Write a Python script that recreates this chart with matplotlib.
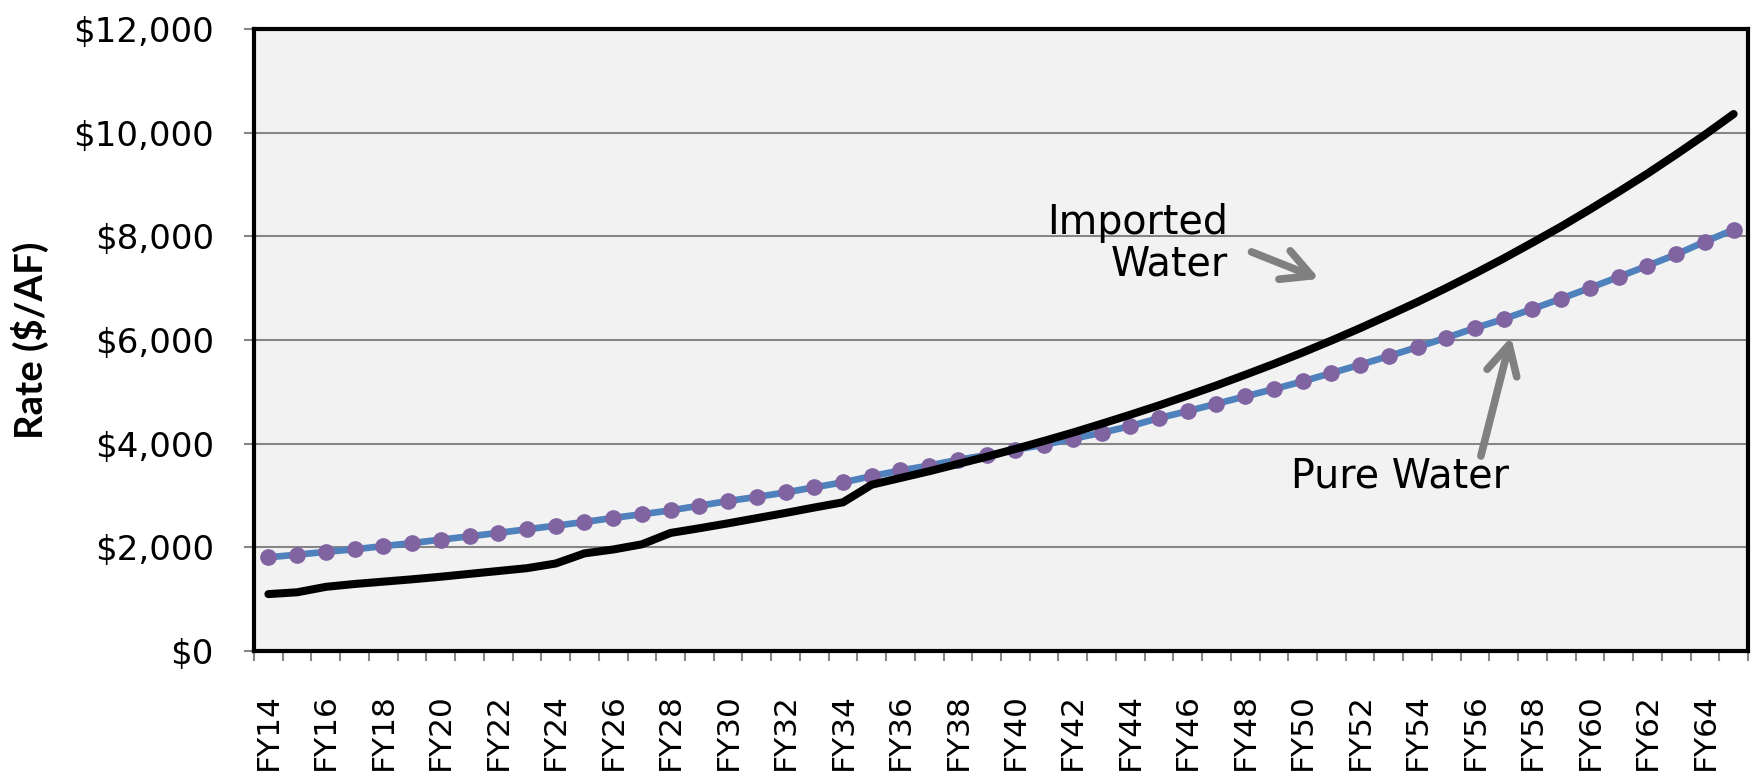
import matplotlib
matplotlib.use('Agg')
from matplotlib import pyplot
import numpy

years = ['FY%d' % y for y in range(14, 66)]

pure_water = [1810, 1860, 1915, 1965, 2025, 2085, 2150, 2215, 2280, 2350,
              2420, 2490, 2570, 2640, 2715, 2805, 2895, 2975, 3060, 3160,
              3255, 3375, 3485, 3580, 3690, 3780, 3885, 3980, 4095, 4212,
              4340, 4495, 4630, 4772, 4913, 5055, 5203, 5363, 5524, 5691,
              5865, 6045, 6232, 6406, 6600, 6800, 7006, 7219, 7432, 7652,
              7897, 8129]

imported_water = [1100, 1135, 1240, 1295, 1340, 1385, 1435, 1490, 1545, 1600,
                  1690, 1885, 1960, 2060, 2280, 2370, 2465, 2565, 2665, 2770,
                  2870, 3210, 3340, 3470, 3610, 3750, 3900, 4055, 4215, 4385,
                  4560, 4740, 4930, 5125, 5330, 5540, 5760, 5990, 6230, 6480,
                  6735, 7005, 7285, 7575, 7880, 8190, 8520, 8860, 9210, 9580,
                  9960, 10360]

y_ticks = [0, 2000, 4000, 6000, 8000, 10000, 12000]

fig = pyplot.figure(figsize=(17.52, 7.77), dpi=100)
ax = fig.add_axes([0.145, 0.162, 0.8527, 0.8007])
ax.set_facecolor('#F2F2F2')

x = numpy.arange(len(years))

ax.plot(x, pure_water, color='#4F81BD', linewidth=4.8, marker='o',
        markersize=11, markerfacecolor='#8064A2', markeredgecolor='#8064A2',
        zorder=3)
ax.plot(x, imported_water, color='black', linewidth=5.8,
        solid_capstyle='round', zorder=4)

ax.set_xlim(-0.5, len(years) - 0.5)
ax.set_ylim(0, 12000)

ax.set_yticks(y_ticks)
ax.set_yticklabels(['${:,}'.format(v) for v in y_ticks])
ax.yaxis.grid(True, color='#868686', linewidth=1.5)
ax.set_axisbelow(True)
ax.tick_params(axis='y', length=7, width=1.5, color='#868686',
               labelsize=24.5, pad=22)

ax.set_xticks(x[::2])
ax.set_xticklabels(years[::2], rotation=90)
ax.set_xticks(numpy.arange(len(years) + 1) - 0.5, minor=True)
ax.tick_params(axis='x', which='major', length=0, labelsize=22.5, pad=30)
ax.tick_params(axis='x', which='minor', length=7, width=1.5, color='#868686')

for side in ['top', 'right', 'left', 'bottom']:
    ax.spines[side].set_color('black')
    ax.spines[side].set_linewidth(3)

ax.set_ylabel('Rate ($/AF)', fontsize=27.5, fontweight='bold',
              family=['Lato', 'DejaVu Sans'])
ax.yaxis.set_label_coords(-0.137, 0.5)

arrow = dict(arrowstyle='->,head_length=1.05,head_width=0.55',
             color='#808080', linewidth=5.5, mutation_scale=20)

ax.text(33.4, 7850, 'Imported\nWater', fontsize=28.5, ha='right',
        va='center', multialignment='right', linespacing=1.05)
ax.annotate('', xy=(36.67, 7160), xytext=(34.13, 7720), arrowprops=arrow)

ax.text(39.4, 3360, 'Pure Water', fontsize=28.5, ha='center', va='center')
ax.annotate('', xy=(43.28, 6115), xytext=(42.18, 3712), arrowprops=arrow)

fig.savefig('out.png', dpi=100)
